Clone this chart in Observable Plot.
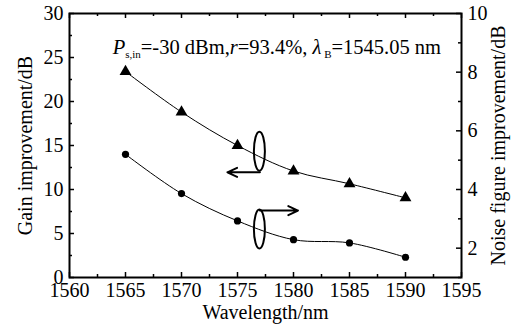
<!DOCTYPE html>
<html><head>
<meta charset="utf-8">
<script src="https://cdn.jsdelivr.net/npm/d3@7"></script>
<script src="https://cdn.jsdelivr.net/npm/@observablehq/plot@0.6"></script>
<style>
body{margin:0;background:#fff}
svg, svg text{font-family:"Liberation Serif","Times New Roman",serif !important; font-variant:normal !important}
</style>
</head><body><div id="chart"></div>
<script>
// ---- data ----
const wavelengths = [1565, 1570, 1575, 1580, 1585, 1590];
const gainImprovement = [23.4, 18.8, 15.0, 12.1, 10.65, 9.05];   // left axis, dB
const noiseImprovement = [5.2, 3.86, 2.93, 2.29, 2.18, 1.69];    // right axis, dB
const xTicks = [1560, 1565, 1570, 1575, 1580, 1585, 1590, 1595];
const xMinorTicks = [1562.5, 1567.5, 1572.5, 1577.5, 1582.5, 1587.5, 1592.5];
const gainTicks = [0, 5, 10, 15, 20, 25, 30];
const gainMinorTicks = [2.5, 7.5, 12.5, 17.5, 22.5, 27.5];
const noiseTicks = [2, 4, 6, 8, 10];
const noiseMinorTicks = [1, 3, 5, 7, 9];
const gainDomain = [0, 30];
const noiseDomain = [1, 10];
const xDomain = [1560, 1595];
// annotation anchors (data units)
const ellipseX = 1577.0;
const ellipseGainY = [14.3, 5.45];
const arrowLeft = {x1: 1577.0, x2: 1574.1, y: 11.95};
const arrowRight = {x1: 1577.0, x2: 1580.4, y: 7.6};

// map noise-figure values onto the gain scale
const nf2g = v => (v - noiseDomain[0]) * (gainDomain[1] - gainDomain[0]) / (noiseDomain[1] - noiseDomain[0]) + gainDomain[0];

const gainRows = wavelengths.map((w, i) => ({w, v: gainImprovement[i]}));
const noiseRows = wavelengths.map((w, i) => ({w, v: nf2g(noiseImprovement[i])}));

const FS = 20;
const FAM = '"Liberation Serif", serif';
const tickLen = 5, minorLen = 3;
const xPerPx = (xDomain[1] - xDomain[0]) / (512 - 69 - 51);
const yPerPx = (gainDomain[1] - gainDomain[0]) / (333 - 13 - 56);

const chart = Plot.plot({
  width: 512, height: 333,
  marginTop: 13, marginBottom: 56, marginLeft: 69, marginRight: 51,
  x: {domain: xDomain},
  y: {domain: gainDomain},
  style: {fontFamily: FAM, background: "#fff"},
  marks: [
    Plot.frame({stroke: "black", strokeWidth: 2}),
    Plot.axisX({anchor: "bottom", ticks: xTicks, tickSize: 0, tickPadding: 5, tickFormat: d => String(d), fontSize: FS, fontFamily: FAM,
      label: "Wavelength/nm", labelAnchor: "center", labelOffset: 41, labelArrow: false}),
    Plot.axisY({anchor: "left", ticks: gainTicks, tickSize: 0, tickPadding: 6, tickFormat: d => String(d), fontSize: FS, fontFamily: FAM,
      label: "Gain improvement/dB", labelAnchor: "center", labelOffset: 52, labelArrow: false}),
    Plot.axisY({anchor: "right", ticks: noiseTicks.map(nf2g), tickSize: 0, tickPadding: 6, fontFamily: FAM,
      tickFormat: (d, i) => String(noiseTicks[i]), fontSize: FS,
      label: "Noise figure improvement/dB", labelAnchor: "center", labelOffset: 43, labelArrow: false}),
    // inward ticks
    Plot.ruleX(xTicks, {x: d => d, y1: gainDomain[0], y2: gainDomain[0] + tickLen * yPerPx, stroke: "black", strokeWidth: 1.5}),
    Plot.ruleX(xMinorTicks, {x: d => d, y1: gainDomain[0], y2: gainDomain[0] + minorLen * yPerPx, stroke: "black", strokeWidth: 1.5}),
    Plot.ruleX(xTicks, {x: d => d, y1: gainDomain[1], y2: gainDomain[1] - tickLen * yPerPx, stroke: "black", strokeWidth: 1.5}),
    Plot.ruleX(xMinorTicks, {x: d => d, y1: gainDomain[1], y2: gainDomain[1] - minorLen * yPerPx, stroke: "black", strokeWidth: 1.5}),
    Plot.ruleY(gainTicks, {y: d => d, x1: xDomain[0], x2: xDomain[0] + tickLen * xPerPx, stroke: "black", strokeWidth: 1.5}),
    Plot.ruleY(gainMinorTicks, {y: d => d, x1: xDomain[0], x2: xDomain[0] + minorLen * xPerPx, stroke: "black", strokeWidth: 1.5}),
    Plot.ruleY(noiseTicks.map(nf2g), {y: d => d, x1: xDomain[1], x2: xDomain[1] - tickLen * xPerPx, stroke: "black", strokeWidth: 1.5}),
    Plot.ruleY(noiseMinorTicks.map(nf2g), {y: d => d, x1: xDomain[1], x2: xDomain[1] - minorLen * xPerPx, stroke: "black", strokeWidth: 1.5}),
    // series
    Plot.line(gainRows, {x: "w", y: "v", curve: "catmull-rom", stroke: "black", strokeWidth: 1}),
    Plot.dot(gainRows, {x: "w", y: "v", symbol: "triangle", r: 4.4, fill: "black", stroke: "none"}),
    Plot.line(noiseRows, {x: "w", y: "v", curve: "catmull-rom", stroke: "black", strokeWidth: 1}),
    Plot.dot(noiseRows, {x: "w", y: "v", symbol: "circle", r: 3.6, fill: "black", stroke: "none"}),
    // arrows
    Plot.arrow([arrowLeft, arrowRight], {x1: "x1", x2: "x2", y1: "y", y2: "y", stroke: "black", strokeWidth: 2, headLength: 8, headAngle: 50})
  ]
});

// ellipses and the condition text
const sx = chart.scale("x"), sy = chart.scale("y");
const svg = d3.select(chart.tagName.toLowerCase() === "svg" ? chart : chart.querySelector("svg"));
ellipseGainY.forEach(g => {
  svg.append("ellipse")
    .attr("cx", sx.apply(ellipseX)).attr("cy", sy.apply(g))
    .attr("rx", 5.5).attr("ry", 19.5)
    .attr("fill", "none").attr("stroke", "black").attr("stroke-width", 2);
});
const t = svg.append("text")
  .attr("x", sx.apply(1563.9)).attr("y", sy.apply(25.3))
  .attr("text-anchor", "start")
  .attr("font-size", 20.5).attr("fill", "black");
t.append("tspan").attr("font-style", "italic").text("P");
t.append("tspan").attr("font-size", 11).attr("dy", 4).text("s,in");
t.append("tspan").attr("dy", -4).text("=-30 dBm,");
t.append("tspan").attr("font-style", "italic").text("r");
t.append("tspan").text("=93.4%, ");
t.append("tspan").attr("font-style", "italic").text("λ");
t.append("tspan").attr("font-size", 11).attr("dy", 4).text(" B");
t.append("tspan").attr("dy", -4).text("=1545.05 nm");

document.getElementById("chart").appendChild(chart);
</script>
</body></html>
